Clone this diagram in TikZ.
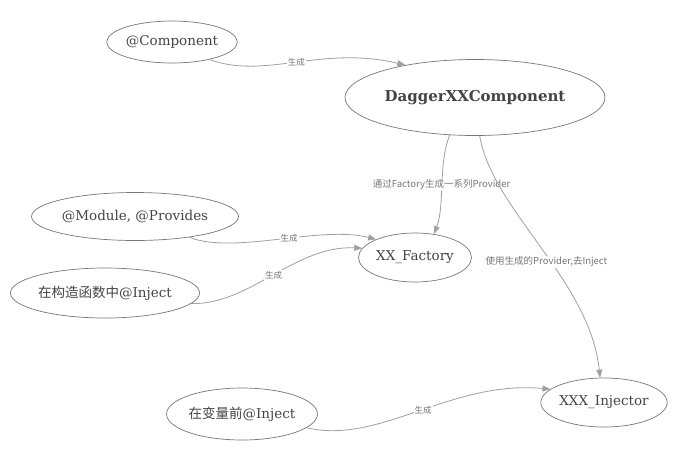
\documentclass[tikz,border=0pt]{standalone}
\usepackage{fontspec}
\setmainfont{DejaVu Serif}
\newfontfamily\cjk{Noto Sans CJK SC}
\usetikzlibrary{shapes.geometric,arrows.meta}
\definecolor{txtgray}{HTML}{444444}
\definecolor{bordergray}{HTML}{777777}
\definecolor{edgegray}{HTML}{A0A0A0}
\definecolor{lblgray}{HTML}{777777}
\begin{document}
\begin{tikzpicture}[x=1pt,y=-1pt,
  ell/.style={ellipse, draw=bordergray, line width=0.7pt, inner sep=0pt, text=txtgray,
    font=\fontsize{13.5}{16}\selectfont},
  conn/.style={draw=edgegray, line width=0.8pt, -{Triangle[length=8pt,width=6pt]}},
  lbl/.style={fill=white, inner sep=1pt, text=lblgray, font=\cjk\fontsize{9.5}{11}\selectfont},
  slbl/.style={lbl, font=\cjk\fontsize{8.5}{10}\selectfont}]
\useasboundingbox (0,0) rectangle (682,466);
\fill[white] (0,0) rectangle (682,466);

\node[ell, minimum width=128pt, minimum height=42pt] (comp) at (172,42) {@Component};
\node[ell, minimum width=260pt, minimum height=76pt, font=\fontsize{15}{18}\selectfont\bfseries] (dagger) at (475,97.5) {DaggerXXComponent};
\node[ell, minimum width=184pt, minimum height=48pt] (module) at (135,216.5) {@Module, @Provides};
\node[ell, minimum width=180pt, minimum height=50pt] (ctor) at (105,293) {{\cjk 在构造函数中}@Inject};
\node[ell, minimum width=113pt, minimum height=49pt] (factory) at (415,257.5) {XX\_Factory};
\node[ell, minimum width=124pt, minimum height=49pt] (injector) at (604,402.5) {XXX\_Injector};
\node[ell, minimum width=150pt, minimum height=52pt] (field) at (242,414) {{\cjk 在变量前}@Inject};

\draw[conn] (comp.-25) .. controls (265,80) and (320,45) .. node[slbl] (l1) {生成} (dagger.155);
\draw[conn] (dagger.-124) .. controls (438,165) and (445,205) .. node[lbl] (l2) {通过Factory生成一系列Provider} (factory.51);
\draw[conn] (dagger.-83) .. controls (492,210) and (590,280) .. node[lbl, pos=0.56, xshift=-4pt] (l3) {使用生成的Provider,去Inject} (injector.99);
\draw[conn] (module.-21) .. controls (235,255) and (320,225) .. node[slbl, pos=0.55] (l4) {生成} (factory.155);
\draw[conn] (ctor.-7) .. controls (250,305) and (295,245) .. node[slbl] (l5) {生成} (factory.170);
\draw[conn] (field.-12) .. controls (380,445) and (450,380) .. node[slbl, pos=0.52] (l6) {生成} (injector.166);
\end{tikzpicture}
\end{document}
